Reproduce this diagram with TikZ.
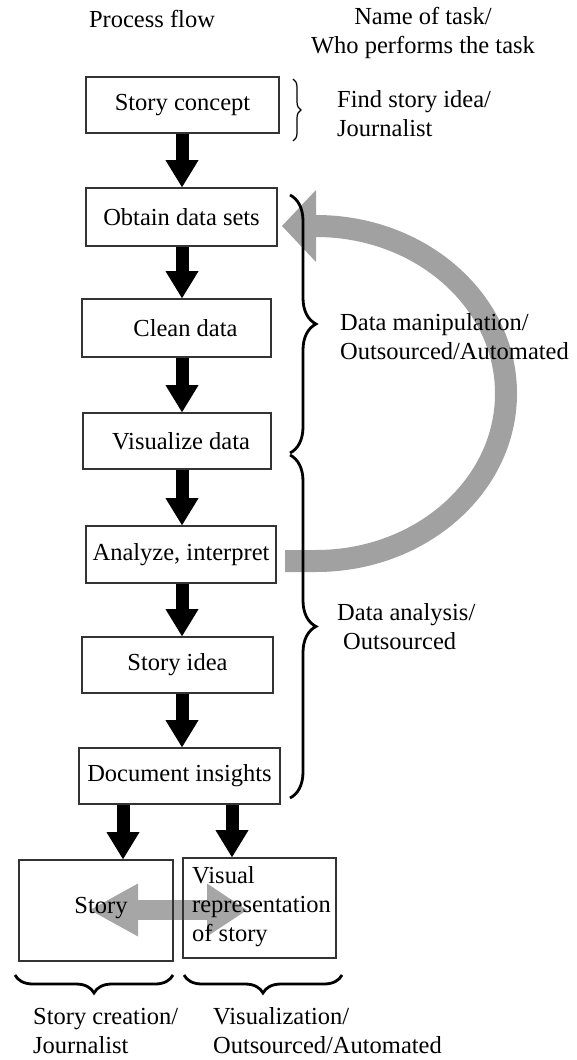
\documentclass[tikz,border=0pt]{standalone}
\usepackage{fontspec}
\setmainfont{Liberation Serif}
\usetikzlibrary{arrows.meta,decorations.pathreplacing}

\begin{document}
\begin{tikzpicture}[x=1pt,y=-1pt,
  font=\fontsize{24.5}{29}\selectfont,
  stepbox/.style={draw=black!80, line width=1.6pt, inner sep=0pt},
  flow/.style={line width=13pt, black,
    -{Triangle[width=33pt,length=27pt,line width=0pt]}},
  band/.style={line width=22pt, draw=black!37},
  sidebrace/.style={decorate, decoration={brace, amplitude=#1},
    line width=2.8pt},
  caption/.style={align=left, inner sep=0pt, anchor=west}
]
\useasboundingbox (0,0) rectangle (577,1060);

% vertical axis of the flow arrows
\coordinate (axis) at (182,0);

% column headings
\node[inner sep=0pt] (hflow) at (152,19) {Process flow};
\node[inner sep=0pt, align=center] (htask) at (423,33) {Name of task/\\Who performs the task};

% gray feedback loop from the analysis step back to the data sets
\coordinate (loopfrom) at (285,561);
\coordinate (loopto) at (282,226);
\draw[band, -{Triangle[width=72pt,length=34pt,line width=0pt]}]
  (loopfrom) -- (316,561)
  arc[start angle=-90, end angle=90, x radius=190pt, y radius=167.5pt]
  -- (loopto);

% gray exchange between story and its visual representation
\coordinate (xleft) at (90,910);
\coordinate (xright) at (247,910);
\draw[line width=20pt, black!35,
  {Triangle[width=53pt,length=48pt,line width=0pt]}-{Triangle[width=53pt,length=40pt,line width=0pt]}]
  (xleft) -- (xright);

% process steps
\node[stepbox, minimum width=193pt, minimum height=56pt] (concept) at (182.5,105) {Story concept};
\node[stepbox, minimum width=191pt, minimum height=58pt] (obtain) at (181.5,217) {Obtain data sets};
\node[stepbox, minimum width=189pt, minimum height=58pt] (clean) at (176.5,328) {\hspace{18pt}Clean data};
\node[stepbox, minimum width=188pt, minimum height=56pt] (visualize) at (177,441) {\hspace{8pt}Visualize data};
\node[stepbox, minimum width=190pt, minimum height=57pt] (analyze) at (181,554.5) {Analyze, interpret};
\node[stepbox, minimum width=191pt, minimum height=56pt] (idea) at (177.5,665) {Story idea};
\node[stepbox, minimum width=201pt, minimum height=56pt] (insights) at (179.5,776) {Document insights};
\node[stepbox, minimum width=154pt, minimum height=101pt] (story) at (96,910.5) {};
\node[inner sep=0pt] (storytext) at (101,908) {Story};
\node[stepbox, minimum width=153pt, minimum height=100pt] (visual) at (259.5,908) {};
\node[caption, anchor=north west] (visualtext) at (192,866) {Visual\\representation\\of story};

% flow arrows
\draw[flow] (concept.south -| axis) -- (obtain.north -| axis);
\draw[flow] (obtain.south -| axis) -- (clean.north -| axis);
\draw[flow] (clean.south -| axis) -- (visualize.north -| axis);
\draw[flow] (visualize.south -| axis) -- (analyze.north -| axis);
\draw[flow] (analyze.south -| axis) -- (idea.north -| axis);
\draw[flow] (idea.south -| axis) -- (insights.north -| axis);
\draw[flow] ([xshift=-56.5pt]insights.south) -- ([xshift=27pt]story.north);
\draw[flow] ([xshift=52.5pt]insights.south) -- ([xshift=-27.5pt]visual.north);

% task braces on the right
\draw[sidebrace=8pt, line width=1.2pt] (293,79) -- (293,141);
\draw[sidebrace=26pt] (290,195) -- (290,453);
\draw[sidebrace=26pt] (290,455) -- (290,798);

% task braces below
\draw[sidebrace=18pt] (173,975) -- (15,975);
\draw[sidebrace=18pt] (342,975) -- (184,975);

% task names and who performs them
\node[caption] (task1) at (337,114) {Find story idea/\\Journalist};
\node[caption] (task2) at (340,337) {Data manipulation/\\Outsourced/Automated};
\node[caption] (task3) at (337,627) {Data analysis/\\\hspace{6pt}Outsourced};
\node[caption] (task4) at (33,1031) {Story creation/\\Journalist};
\node[caption] (task5) at (213,1031) {Visualization/\\Outsourced/Automated};
\end{tikzpicture}
\end{document}
